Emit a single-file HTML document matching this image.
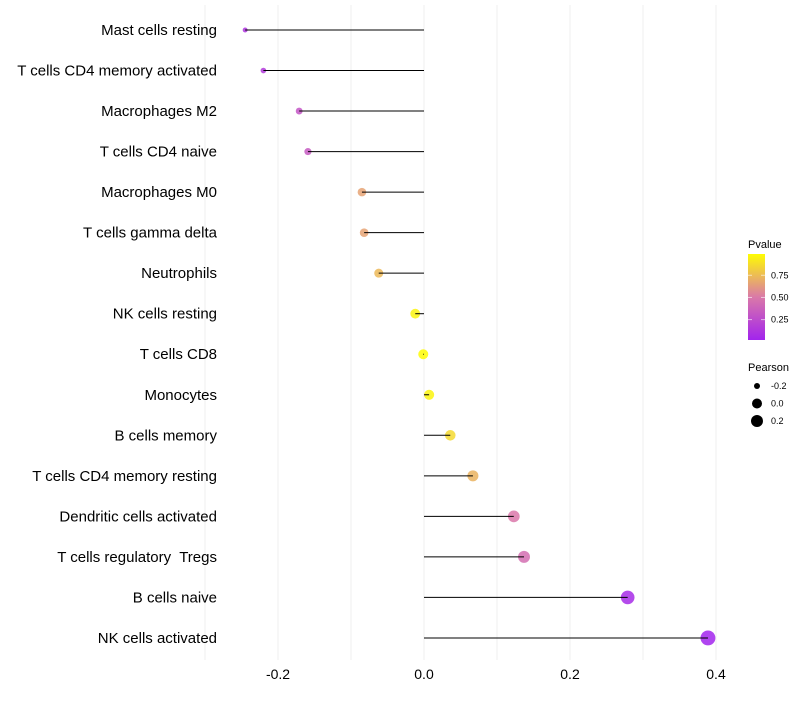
<!DOCTYPE html>
<html><head><meta charset="utf-8"><style>
body{margin:0;background:#fff;font-family:"Liberation Sans",sans-serif}
svg text{font-family:"Liberation Sans",sans-serif;white-space:pre}
</style></head><body>
<svg id="c" width="800" height="700"></svg>
<script>
const categories=["Mast cells resting","T cells CD4 memory activated","Macrophages M2","T cells CD4 naive","Macrophages M0","T cells gamma delta","Neutrophils","NK cells resting","T cells CD8","Monocytes","B cells memory","T cells CD4 memory resting","Dendritic cells activated","T cells regulatory  Tregs","B cells naive","NK cells activated"];
const pearson=[-0.245,-0.22,-0.171,-0.159,-0.085,-0.082,-0.062,-0.012,-0.001,0.007,0.036,0.067,0.123,0.137,0.279,0.389];
const pvalue=[0.12,0.15,0.3,0.33,0.66,0.66,0.74,0.96,0.99,0.96,0.86,0.72,0.5,0.45,0.06,0.02];
const xTicks=[-0.2,0,0.2,0.4];
const xTickLabels=["-0.2","0.0","0.2","0.4"];
const pTicks=[0.25,0.5,0.75];
const sizeTicks=[-0.2,0,0.2];
const NS="http://www.w3.org/2000/svg";
const svg=document.getElementById('c');
function mk(t,a,p){const e=document.createElementNS(NS,t);for(const k in a)e.setAttribute(k,a[k]);(p||svg).appendChild(e);return e;}
const x=v=>424+v*730;
const y=i=>30+i*40.53;
function col(p){const a=[160,32,240],m=[218,120,170],b=[255,255,0];let s,e,t;if(p<0.5){s=a;e=m;t=p/0.5}else{s=m;e=b;t=(p-0.5)/0.5}return `rgb(${s.map((c,i)=>Math.round(c+(e[i]-c)*t)).join(',')})`;}
const r=v=>Math.sqrt(6+(v+0.245)*78);
[-0.3,-0.2,-0.1,0,0.1,0.2,0.3,0.4].forEach(v=>{const g=mk('line',{x1:x(v),x2:x(v),y1:5,y2:660,stroke:'#efefef','stroke-width':1});

});
categories.forEach((c,i)=>{
const t=mk('text',{x:217,y:y(i)+5,'text-anchor':'end','font-size':15,fill:'#000'});t.textContent=c;


const d=mk('circle',{cx:x(pearson[i]),cy:y(i),r:r(pearson[i]),fill:col(pvalue[i]),'fill-opacity':0.85});


const l=mk('line',{x1:x(0),x2:x(pearson[i]),y1:y(i),y2:y(i),stroke:'#000','stroke-width':1});


});
xTicks.forEach((v,i)=>{const t=mk('text',{x:x(v),y:679,'text-anchor':'middle','font-size':14,fill:'#000'});t.textContent=xTickLabels[i];

});
const lt=mk('text',{x:748,y:248,'font-size':11,fill:'#000'});lt.textContent='Pvalue';


const defs=mk('defs',{});const gr=mk('linearGradient',{id:'pg',x1:0,y1:1,x2:0,y2:0},defs);
[0,0.25,0.5,0.75,1].forEach(o=>mk('stop',{offset:o,'stop-color':col(0.02+o*0.97)},gr));
const bar=mk('rect',{x:748,y:254,width:17,height:86,fill:'url(#pg)'});


pTicks.forEach(p=>{const yy=340-(p-0.02)/0.97*86;
mk('line',{x1:748,x2:752,y1:yy,y2:yy,stroke:'#fff','stroke-opacity':0.6});mk('line',{x1:761,x2:765,y1:yy,y2:yy,stroke:'#fff','stroke-opacity':0.6});
const t=mk('text',{x:771,y:yy+3,'font-size':9,fill:'#000'});t.textContent=p.toFixed(2);

});
const st=mk('text',{x:748,y:371,'font-size':11,fill:'#000'});st.textContent='Pearson';


sizeTicks.forEach((v,i)=>{const yy=386+i*17.5;
const c=mk('circle',{cx:757,cy:yy,r:[3,5,6][i],fill:'#000'});


const t=mk('text',{x:771,y:yy+3,'font-size':9,fill:'#000'});t.textContent=v.toFixed(1);

});
</script>
</body></html>
